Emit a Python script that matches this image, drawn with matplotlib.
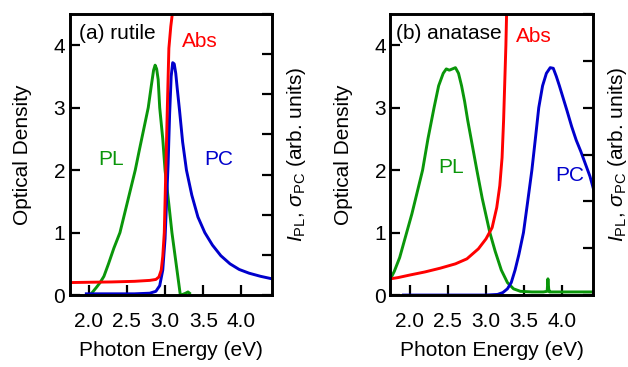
import numpy as np
import matplotlib
matplotlib.use("Agg")
import matplotlib.pyplot as plt
from matplotlib.ticker import FormatStrFormatter, MultipleLocator

plt.rcParams['font.family'] = ['Liberation Sans', 'DejaVu Sans']
plt.rcParams['mathtext.fontset'] = 'custom'
plt.rcParams['mathtext.rm'] = 'Liberation Sans'
plt.rcParams['mathtext.it'] = 'Liberation Sans:italic'
plt.rcParams['font.size'] = 15

# colours
c_abs = '#ff0000'
c_pl = '#0a960a'
c_pc = '#0000cc'

###########################################################
# (a) rutile  (values read in left-axis units)
abs_a_x = [1.75, 2.0, 2.3, 2.6, 2.8, 2.88, 2.92, 2.95, 2.97, 2.99, 3.01, 3.03, 3.05, 3.075, 3.10]
abs_a_y = [0.20, 0.205, 0.21, 0.22, 0.235, 0.25, 0.29, 0.40, 0.62, 1.0, 2.0, 3.0, 3.95, 4.3, 4.55]

pl_a_x = [2.02, 2.06, 2.1, 2.15, 2.2, 2.26, 2.33, 2.41, 2.5, 2.56, 2.61, 2.66, 2.72, 2.78,
          2.82, 2.85, 2.87, 2.89, 2.91, 2.93, 2.97, 3.0, 3.05, 3.09, 3.145, 3.2, 3.23, 3.27, 3.3, 3.32]
pl_a_y = [0.0, 0.06, 0.12, 0.2, 0.3, 0.5, 0.75, 1.0, 1.45, 1.75, 2.0, 2.3, 2.65, 3.0,
          3.35, 3.6, 3.68, 3.62, 3.45, 3.0, 2.5, 2.0, 1.45, 1.0, 0.5, 0.0, 0.01, 0.03, 0.05, 0.03]

pc_a_x = [1.97, 2.3, 2.6, 2.8, 2.88, 2.93, 2.97, 3.0, 3.02, 3.04, 3.06, 3.08, 3.10, 3.12, 3.14,
          3.16, 3.19, 3.23, 3.28, 3.35, 3.43, 3.52, 3.62, 3.73, 3.85, 3.97, 4.1, 4.25, 4.4]
pc_a_y = [0.02, 0.02, 0.02, 0.03, 0.06, 0.15, 0.4, 0.9, 1.5, 2.1, 2.9, 3.5, 3.72, 3.70, 3.55,
          3.3, 2.95, 2.45, 2.0, 1.6, 1.25, 1.0, 0.8, 0.63, 0.5, 0.41, 0.35, 0.3, 0.26]

# (b) anatase
abs_b_x = [1.75, 1.85, 2.0, 2.2, 2.4, 2.6, 2.75, 2.9, 3.0, 3.08, 3.14, 3.18, 3.21, 3.23, 3.245, 3.26, 3.27]
abs_b_y = [0.26, 0.28, 0.32, 0.37, 0.43, 0.5, 0.58, 0.74, 0.9, 1.08, 1.4, 1.75, 2.2, 2.8, 3.4, 4.0, 4.55]

pl_b_x = [1.75, 1.8, 1.87, 1.95, 2.03, 2.1, 2.17, 2.24, 2.32, 2.38, 2.44, 2.48, 2.52, 2.56, 2.6,
          2.64, 2.68, 2.72, 2.76, 2.82, 2.88, 2.95, 3.05, 3.12, 3.2, 3.28, 3.36, 3.45, 3.6, 3.75,
          3.8, 3.81, 3.82, 3.83, 3.84, 3.9, 4.1, 4.3, 4.4]
pl_b_y = [0.26, 0.38, 0.6, 0.95, 1.3, 1.65, 2.0, 2.5, 3.0, 3.35, 3.55, 3.62, 3.6, 3.62, 3.64,
          3.55, 3.35, 3.1, 2.8, 2.4, 2.0, 1.55, 1.0, 0.7, 0.4, 0.2, 0.1, 0.06, 0.05, 0.05,
          0.06, 0.26, 0.1, 0.05, 0.05, 0.05, 0.05, 0.05, 0.05]

pc_b_x = [1.92, 2.5, 3.0, 3.15, 3.22, 3.28, 3.33, 3.38, 3.43, 3.49, 3.54, 3.6, 3.65, 3.69, 3.74,
          3.79, 3.84, 3.88, 3.92, 3.96, 4.01, 4.06, 4.12, 4.18, 4.24, 4.3, 4.36, 4.41]
pc_b_y = [0.0, 0.0, 0.0, 0.01, 0.04, 0.1, 0.2, 0.4, 0.65, 1.0, 1.45, 2.0, 2.55, 3.0, 3.35,
          3.55, 3.64, 3.63, 3.5, 3.35, 3.15, 2.95, 2.7, 2.48, 2.3, 2.1, 1.9, 1.68]

xticks = [2.0, 2.5, 3.0, 3.5, 4.0]

###########################################################

fig = plt.figure(figsize=(6.28, 3.67), dpi=100)

def panel(rect, abs_x, abs_y, pl_x, pl_y, pc_x, pc_y, right_max, labels):
    ax = fig.add_axes(rect)
    ax.plot(pl_x, pl_y, color=c_pl, lw=2.1)
    ax.plot(pc_x, pc_y, color=c_pc, lw=2.1)
    ax.plot(abs_x, abs_y, color=c_abs, lw=2.1)
    ax.set_xlim(1.75, 4.4)
    ax.set_ylim(0, 4.5)
    ax.set_xticks(xticks)
    ax.xaxis.set_major_formatter(FormatStrFormatter('%.1f'))
    ax.yaxis.set_major_locator(MultipleLocator(1))
    ax.tick_params(direction='in', length=7.5, width=1.6, top=False, right=False)
    ax.tick_params(axis='x', pad=12)
    ax.tick_params(axis='y', pad=3)
    for s in ax.spines.values():
        s.set_linewidth(1.9)
    ax.set_xlabel('Photon Energy (eV)')
    ax.xaxis.set_label_coords(0.5, -0.162)
    ax.set_ylabel('Optical Density')
    ax.yaxis.set_label_coords(-0.185, 0.5)

    # right axis (arbitrary units, ticks only)
    ax2 = ax.twinx()
    ax2.set_ylim(0, right_max)
    ax2.yaxis.set_major_locator(MultipleLocator(1))
    ax2.tick_params(direction='in', length=7.5, width=1.6, labelright=False)
    ax2.set_ylabel(r'$I_\mathrm{PL}$, $\sigma_\mathrm{PC}$ (arb. units)')
    ax2.yaxis.set_label_coords(1.065, 0.5)
    for s in ax2.spines.values():
        s.set_linewidth(1.9)

    for (tx, ty, txt, col) in labels:
        ax.text(tx, ty, txt, color=col, va='center', ha='left')
    return ax

panel([0.1107, 0.196, 0.3225, 0.766], abs_a_x, abs_a_y, pl_a_x, pl_a_y, pc_a_x, pc_a_y, 7,
      [(1.88, 4.19, '(a) rutile', 'black'), (3.22, 4.06, 'Abs', c_abs),
       (2.13, 2.17, 'PL', c_pl), (3.51, 2.17, 'PC', c_pc)])

panel([0.6218, 0.196, 0.3225, 0.766], abs_b_x, abs_b_y, pl_b_x, pl_b_y, pc_b_x, pc_b_y, 6,
      [(1.82, 4.19, '(b) anatase', 'black'), (3.39, 4.14, 'Abs', c_abs),
       (2.37, 2.04, 'PL', c_pl), (3.91, 1.91, 'PC', c_pc)])

fig.savefig('out.png', dpi=100)
